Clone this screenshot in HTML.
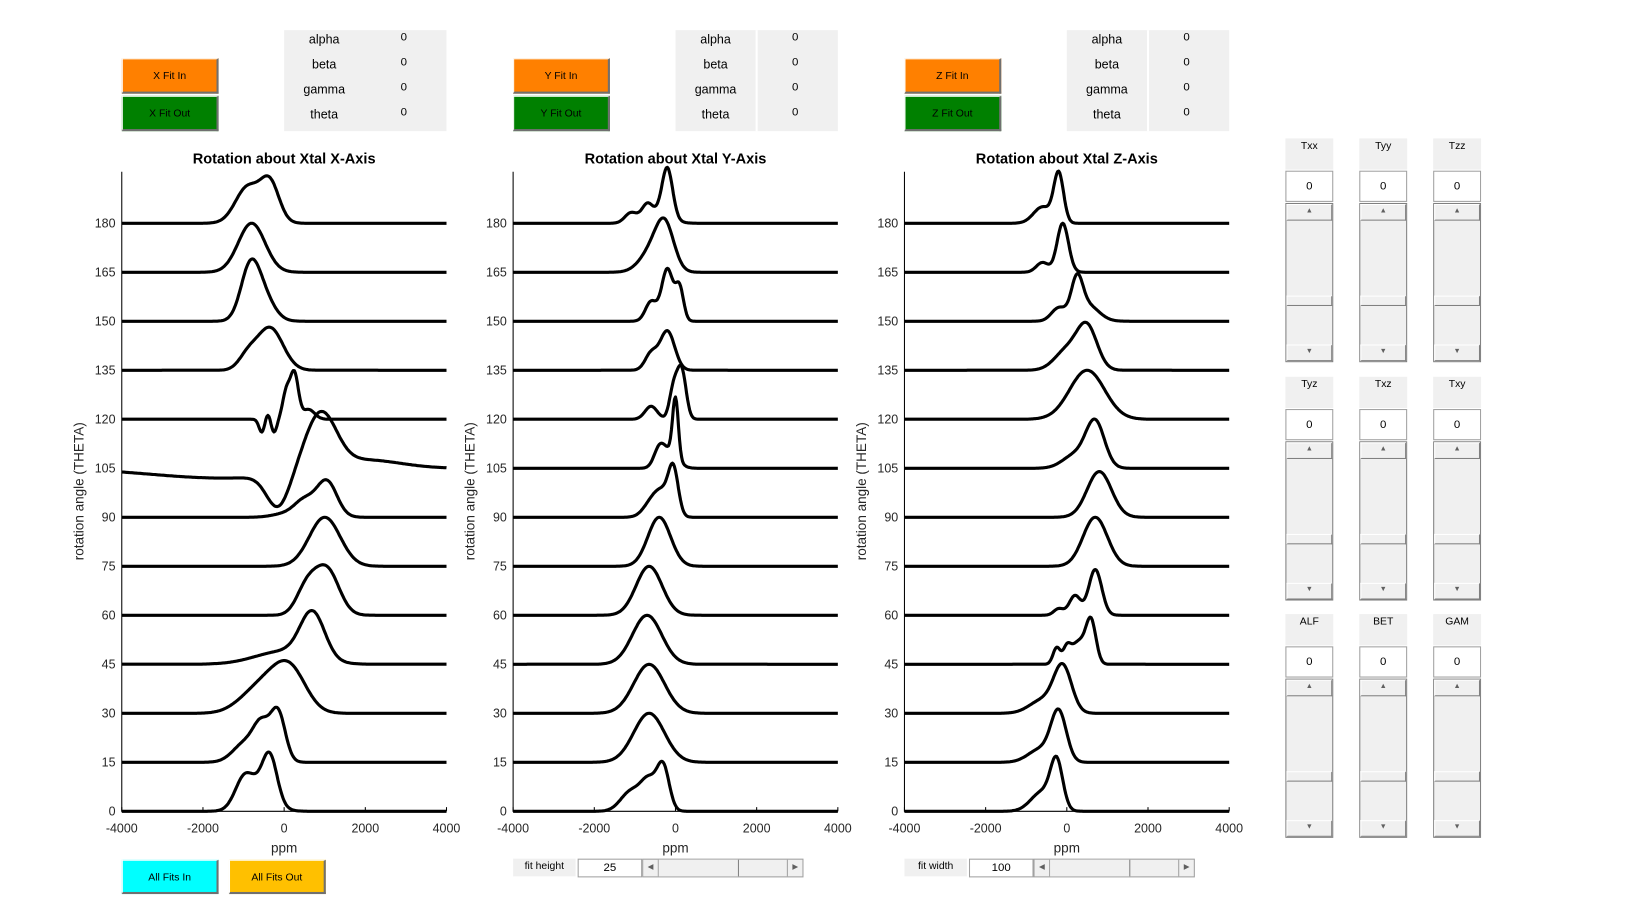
<!DOCTYPE html>
<html><head><meta charset="utf-8"><style>
body{margin:0;background:#fff;width:1632px;height:918px;overflow:hidden;font-family:"Liberation Sans",sans-serif}
#root{position:absolute;left:0;top:0;width:1568px;height:882px;transform:scale(1.0408);transform-origin:0 0}
.abs{position:absolute;box-sizing:border-box}
.btn{border:1px solid #fff;border-right:2px solid #707070;border-bottom:2px solid #707070;font-size:10px;text-align:center;line-height:33px;color:#000}
.tbl{background:#f0f0f0;font-size:12px}
.tbl div{position:absolute;text-align:center}
.hdr{background:#f0f0f0;font-size:10px;text-align:center;padding-top:2px}
.edit{background:#fff;border:1px solid #a0a0a0;font-size:11px;text-align:center;line-height:28px}
.sl{background:#f0f0f0;border:1px solid #a0a0a0}
.arr{position:absolute;left:0;right:0;height:14px;background:#f0f0f0;border:1px solid #fff;border-right:1px solid #808080;border-bottom:1px solid #808080;font-size:7px;color:#606060;text-align:center;line-height:12px}
.thumb{position:absolute;left:0;right:0;height:8px;background:#f0f0f0;border:1px solid #fff;border-right:1px solid #808080;border-bottom:1px solid #808080}
</style></head><body>
<div id="root">
<svg id="charts" class="abs" style="left:0;top:0" width="1568" height="882"></svg>
</div>
<script>
// ---------- data ----------
const angles = [0,15,30,45,60,75,90,105,120,135,150,165,180];
const xTicks = [-4000,-2000,0,2000,4000];
const yTicks = [0,15,30,45,60,75,90,105,120,135,150,165,180];
// peaks: [center ppm, height (deg), width ppm]
const peaksX = [
 [[-1000,7,220],[-350,13,180],[-650,7,350]],
 [[-950,6,300],[-550,10,200],[-150,15,180]],
 [[-300,9,450],[200,10,380],[-900,3,400]],
 [[700,14,300],[0,4,700]],
 [[1050,14,300],[550,8,250]],
 [[1000,15,380]],
 [[1050,11,250],[500,5,250],[0,1,300]],
 [[-1500,-3,1800],[-150,-10,280],[900,17,380],[1900,3,900]],
 [[-550,-4,70],[-250,-4,70],[-400,2,60],[50,8,90],[250,14,100],[600,3,150]],
 [[-350,13,320],[-900,4,220]],
 [[-850,14,230],[-550,8,280]],
 [[-800,15,330]],
 [[-900,11,300],[-350,12,230]]
];
const peaksY = [
 [[-1100,6,250],[-650,9,200],[-300,13,150]],
 [[-650,15,380]],
 [[-650,15,380]],
 [[-700,15,360]],
 [[-650,15,320]],
 [[-400,15,280]],
 [[-50,13,120],[-600,4,200],[-300,7,200]],
 [[0,18,70],[-400,5,130],[-150,5,200]],
 [[150,15,110],[-50,9,100],[-600,4,150]],
 [[-200,12,180],[-600,5,150]],
 [[-200,16,140],[100,10,100],[-600,6,140]],
 [[-250,12,220],[-550,7,300]],
 [[-1100,3,150],[-700,4,130],[-200,15,130],[-450,3,300]]
];
const peaksZ = [
 [[-250,14,150],[-600,6,280]],
 [[-200,15,190],[-650,4,300]],
 [[-100,14,220],[-600,4,320]],
 [[600,12,120],[-250,5,90],[0,4,90],[300,7,200]],
 [[700,14,160],[200,6,140],[-200,2,120]],
 [[700,15,300]],
 [[800,14,300]],
 [[700,14,230],[200,4,300]],
 [[500,15,430]],
 [[500,13,250],[0,6,300]],
 [[250,11,140],[-200,4,180],[500,5,280]],
 [[-100,15,140],[-600,3,150]],
 [[-200,15,120],[-600,5,220]]
];
const panels = [
 {left:117,title:"Rotation about Xtal X-Axis",data:peaksX,key:"x"},
 {left:493,title:"Rotation about Xtal Y-Axis",data:peaksY,key:"y"},
 {left:869,title:"Rotation about Xtal Z-Axis",data:peaksZ,key:"z"}
];
// ---------- drawing ----------
const NS="http://www.w3.org/2000/svg";
const svg=document.getElementById('charts');
const W=312, Y0=779.5, PXDEG=565/180, TOP=165;
function mk(tag,attrs,parent){const e=document.createElementNS(NS,tag);for(const k in attrs)e.setAttribute(k,attrs[k]);(parent||svg).appendChild(e);return e;}
panels.forEach(p=>{
  const sx=v=>p.left+(v+4000)/8000*W;
  const sy=d=>Y0-d*PXDEG;
  const g=mk('g',{});
  
  
  const t=mk('text',{x:p.left+W/2,y:157,'text-anchor':'middle','font-size':14,'font-weight':'bold','font-family':'Liberation Sans, sans-serif'},g);
  t.textContent=p.title;
  
  
  const ax=mk('path',{d:`M${p.left},${TOP}V${Y0}H${p.left+W}`,stroke:'#000','stroke-width':1,fill:'none'},g);
  
  
  yTicks.forEach(v=>{
    const tl=mk('text',{x:p.left-6,y:sy(v)+4,'text-anchor':'end','font-size':12,fill:'#262626','font-family':'Liberation Sans, sans-serif'},g);
    tl.textContent=v;
    
    
  });
  xTicks.forEach(v=>{
    mk('line',{x1:sx(v),x2:sx(v),y1:Y0,y2:Y0-4,stroke:'#000'},g);
    const tl=mk('text',{x:sx(v),y:800,'text-anchor':'middle','font-size':12,fill:'#262626','font-family':'Liberation Sans, sans-serif'},g);
    tl.textContent=v;
    
    
  });
  const xl=mk('text',{x:p.left+W/2,y:819,'text-anchor':'middle','font-size':13,fill:'#262626','font-family':'Liberation Sans, sans-serif'},g);
  xl.textContent='ppm';
  
  
  const yl=mk('text',{x:0,y:0,transform:`translate(${p.left-37},472) rotate(-90)`,'text-anchor':'middle','font-size':13,fill:'#262626','font-family':'Liberation Sans, sans-serif'},g);
  yl.textContent='rotation angle (THETA)';
  
  
  p.data.forEach((peaks,i)=>{
    let d='';
    for(let k=0;k<=320;k++){
      const ppm=-4000+k*25;
      let v=angles[i];
      peaks.forEach(pk=>{v+=pk[1]*Math.exp(-0.5*Math.pow((ppm-pk[0])/pk[2],2));});
      d+=(k?'L':'M')+sx(ppm).toFixed(1)+','+sy(v).toFixed(1);
    }
    const path=mk('path',{d:d,stroke:'#000','stroke-width':3,fill:'none','stroke-linejoin':'round'},g);
    
    
  });
});
// ---------- controls ----------
const root=document.getElementById('root');
function div(cls,style,html,name,inter){const e=document.createElement('div');e.className='abs '+cls;e.setAttribute('style',style);e.innerHTML=html||'';


root.appendChild(e);return e;}
[['X',117,273],['Y',493,649],['Z',869,1025]].forEach(a=>{
  div('btn',`left:${a[1]}px;top:56px;width:93px;height:34px;background:#ff8000`,a[0]+' Fit In',a[0].toLowerCase()+'-fit-in-button',true);
  div('btn',`left:${a[1]}px;top:92px;width:93px;height:34px;background:#008000`,a[0]+' Fit Out',a[0].toLowerCase()+'-fit-out-button',true);
  const t=div('tbl',`left:${a[2]}px;top:29px;width:156px;height:97px`,'',a[0].toLowerCase()+'-parameter-table',false);
  if(a[0]!=='X'){const s=document.createElement('div');s.setAttribute('style','left:77px;top:0;width:2px;height:97px;background:#fff');t.appendChild(s);}
  ['alpha','beta','gamma','theta'].forEach((n,i)=>{
    const l=document.createElement('div');l.setAttribute('style',`left:0;width:77px;top:${2+i*24}px`);l.textContent=n;t.appendChild(l);
    const v=document.createElement('div');v.setAttribute('style',`left:95px;width:40px;top:${1+i*24}px;font-size:11px`);v.textContent='0';t.appendChild(v);
  });
});
div('btn','left:117px;top:826px;width:93px;height:33px;background:#00ffff','All Fits In','all-fits-in-button',true);
div('btn','left:220px;top:826px;width:93px;height:33px;background:#ffc000','All Fits Out','all-fits-out-button',true);
[['fit height','25',493,'fit-height'],['fit width','100',869,'fit-width']].forEach(a=>{
  const x=a[2];
  div('hdr',`left:${x}px;top:825px;width:60px;height:17px;font-size:10px`,a[0],a[3]+'-label',false);
  div('edit',`left:${x+62}px;top:825px;width:62px;height:18px;line-height:16px`,a[1],a[3]+'-input',true);
  const s=div('sl',`left:${x+124}px;top:825px;width:155px;height:18px`,'',a[3]+'-slider',true);
  s.innerHTML='<div style="position:absolute;left:0;top:0;width:14px;height:16px;font-size:7px;color:#606060;text-align:center;line-height:16px;border-right:1px solid #a0a0a0">&#9664;</div>'+
  '<div style="position:absolute;left:15px;top:0;width:76px;height:16px;border-right:1px solid #808080;background:#f0f0f0"></div>'+
  '<div style="position:absolute;right:0;top:0;width:14px;height:16px;font-size:7px;color:#606060;text-align:center;line-height:16px;border-left:1px solid #a0a0a0">&#9654;</div>';
});
const cols=[1235,1306,1377];
const groups=[[133,['Txx','Tyy','Tzz']],[362,['Tyz','Txz','Txy']],[590,['ALF','BET','GAM']]];
groups.forEach(g=>{
  g[1].forEach((lab,j)=>{
    const x=cols[j],y=g[0];
    div('hdr',`left:${x}px;top:${y}px;width:46px;height:30px`,lab,lab.toLowerCase()+'-label',false);
    div('edit',`left:${x}px;top:${y+31}px;width:46px;height:30px`,'0',lab.toLowerCase()+'-input',true);
    const s=div('sl',`left:${x}px;top:${y+62}px;width:46px;height:153px;border-color:#808080`,'',lab.toLowerCase()+'-slider',true);
    s.innerHTML='<div class="arr" style="top:0">&#9650;</div><div class="thumb" style="top:88px"></div><div class="arr" style="bottom:0">&#9660;</div>';
  });
});
</script>
</body></html>
